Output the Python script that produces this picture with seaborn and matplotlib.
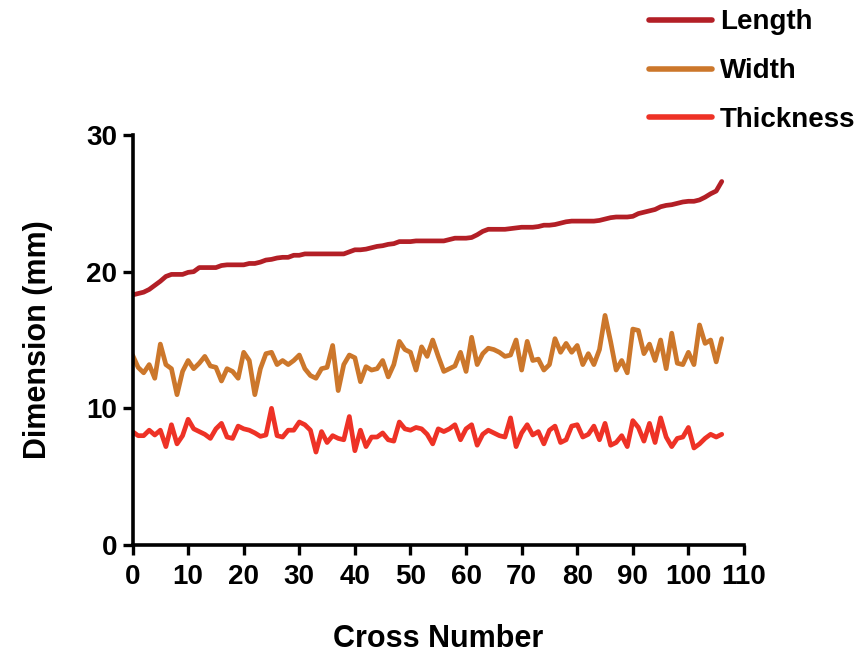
import matplotlib
matplotlib.use("Agg")
import matplotlib.pyplot as plt
import seaborn as sns
import pandas as pd
import numpy as np

# Measurements per cross (mm)
cross = list(range(107))

length = [18.3, 18.4, 18.5, 18.7, 19.0, 19.3, 19.65, 19.8, 19.8, 19.8,
          19.95, 20.0, 20.3, 20.3, 20.3, 20.3, 20.45, 20.5, 20.5, 20.5,
          20.5, 20.6, 20.6, 20.7, 20.85, 20.9, 21.0, 21.05, 21.05, 21.2,
          21.2, 21.3, 21.3, 21.3, 21.3, 21.3, 21.3, 21.3, 21.3, 21.45,
          21.6, 21.6, 21.65, 21.75, 21.85, 21.9, 22.0, 22.05, 22.2, 22.2,
          22.2, 22.25, 22.25, 22.25, 22.25, 22.25, 22.25, 22.35, 22.45, 22.45,
          22.45, 22.5, 22.7, 22.95, 23.1, 23.1, 23.1, 23.1, 23.15, 23.2,
          23.25, 23.25, 23.25, 23.3, 23.4, 23.4, 23.45, 23.55, 23.65, 23.7,
          23.7, 23.7, 23.7, 23.7, 23.75, 23.85, 23.95, 24.0, 24.0, 24.0,
          24.05, 24.25, 24.35, 24.45, 24.55, 24.75, 24.85, 24.9, 25.0, 25.1,
          25.15, 25.15, 25.25, 25.45, 25.7, 25.9, 26.6]

width = [13.9, 13.0, 12.6, 13.2, 12.2, 14.7, 13.2, 12.9, 11.0, 12.7,
         13.5, 12.9, 13.3, 13.8, 13.1, 13.0, 12.0, 12.9, 12.7, 12.2,
         14.1, 13.5, 11.0, 12.9, 14.0, 14.1, 13.2, 13.5, 13.2, 13.5,
         13.9, 12.9, 12.4, 12.2, 12.9, 13.0, 14.6, 11.3, 13.2, 13.9,
         13.7, 11.95, 13.05, 12.8, 12.9, 13.5, 12.3, 13.2, 14.9, 14.3,
         14.1, 12.8, 14.5, 13.8, 15.0, 13.8, 12.7, 12.9, 13.1, 14.1,
         12.7, 15.2, 13.2, 14.0, 14.4, 14.3, 14.1, 13.8, 13.9, 15.0,
         12.8, 14.9, 13.5, 13.6, 12.8, 13.2, 15.1, 14.1, 14.75, 14.1,
         14.6, 13.2, 14.0, 13.2, 14.3, 16.8, 14.9, 12.8, 13.5, 12.6,
         15.8, 15.7, 14.0, 14.7, 13.5, 15.0, 12.9, 15.5, 13.3, 13.2,
         14.1, 13.2, 16.1, 14.75, 15.0, 13.4, 15.1]

thickness = [8.3, 8.0, 8.0, 8.4, 8.05, 8.4, 7.2, 8.8, 7.4, 8.0,
             9.2, 8.5, 8.3, 8.1, 7.8, 8.5, 8.9, 7.9, 7.8, 8.7,
             8.5, 8.4, 8.2, 7.95, 8.05, 10.0, 8.0, 7.9, 8.4, 8.4,
             9.0, 8.8, 8.4, 6.8, 8.3, 7.5, 8.0, 7.8, 7.7, 9.4,
             6.9, 8.4, 7.2, 7.9, 7.9, 8.2, 7.7, 7.6, 9.0, 8.5,
             8.4, 8.6, 8.5, 8.1, 7.4, 8.5, 8.3, 8.5, 8.8, 7.7,
             8.5, 8.8, 7.3, 8.1, 8.4, 8.2, 8.0, 7.9, 9.3, 7.2,
             8.2, 8.8, 8.05, 8.3, 7.4, 8.4, 8.7, 7.5, 7.7, 8.7,
             8.8, 7.9, 8.1, 8.7, 7.7, 8.9, 7.3, 7.5, 8.0, 7.2,
             9.1, 8.6, 7.6, 8.9, 7.5, 9.3, 7.9, 7.2, 7.8, 7.9,
             8.6, 7.1, 7.4, 7.8, 8.1, 7.9, 8.1]

series_names = ["Length", "Width", "Thickness"]
series_colors = ["#B31F26", "#CC772B", "#EE3226"]
x_ticks = list(range(0, 111, 10))
y_ticks = [0, 10, 20, 30]

df = pd.DataFrame({
    "Cross Number": cross * 3,
    "Dimension (mm)": length + width + thickness,
    "Measure": ["Length"] * len(cross) + ["Width"] * len(cross) + ["Thickness"] * len(cross),
})

sns.set_style("ticks")
plt.rcParams["font.family"] = ["Liberation Sans", "DejaVu Sans"]
plt.rcParams["font.weight"] = "bold"
for key in ("text.color", "axes.labelcolor", "xtick.color", "ytick.color",
            "xtick.labelcolor", "ytick.labelcolor"):
    plt.rcParams[key] = "black"

fig = plt.figure(figsize=(8.64, 6.56), dpi=100)
ax = fig.add_axes([0.1534, 0.1692, 0.7077, 0.625])

sns.lineplot(data=df, x="Cross Number", y="Dimension (mm)", hue="Measure",
             hue_order=series_names, palette=series_colors,
             linewidth=3.4, ax=ax, legend=True)

ax.set_xlim(0, 110)
ax.set_ylim(0, 30)
ax.set_xticks(x_ticks)
ax.set_yticks(y_ticks)
ax.set_xticklabels([str(t) for t in x_ticks], fontsize=20, fontweight="bold")
ax.set_yticklabels([str(t) for t in y_ticks], fontsize=20, fontweight="bold")
ax.tick_params(axis="both", direction="out", length=7, width=2.4, color="black")
ax.tick_params(axis="x", pad=7)
ax.tick_params(axis="y", pad=4)

for side in ("top", "right"):
    ax.spines[side].set_visible(False)
for side in ("left", "bottom"):
    ax.spines[side].set_linewidth(2.6)
    ax.spines[side].set_color("black")
    ax.spines[side].set_capstyle("projecting")

ax.set_xlabel("Cross Number", fontsize=22, fontweight="bold", labelpad=24)
ax.set_ylabel("Dimension (mm)", fontsize=22, fontweight="bold", labelpad=24)

handles, labels = ax.get_legend_handles_labels()
ax.get_legend().remove()
for h in handles:
    h.set_linewidth(4.0)
fig.legend(handles, labels, loc="upper left", bbox_to_anchor=(0.745, 0.994),
           frameon=False, prop={"size": 20, "weight": "bold"},
           handlelength=2.25, handletextpad=0.3, labelspacing=0.82,
           borderpad=0.2, borderaxespad=0.0)

fig.savefig("out.png", dpi=100)
